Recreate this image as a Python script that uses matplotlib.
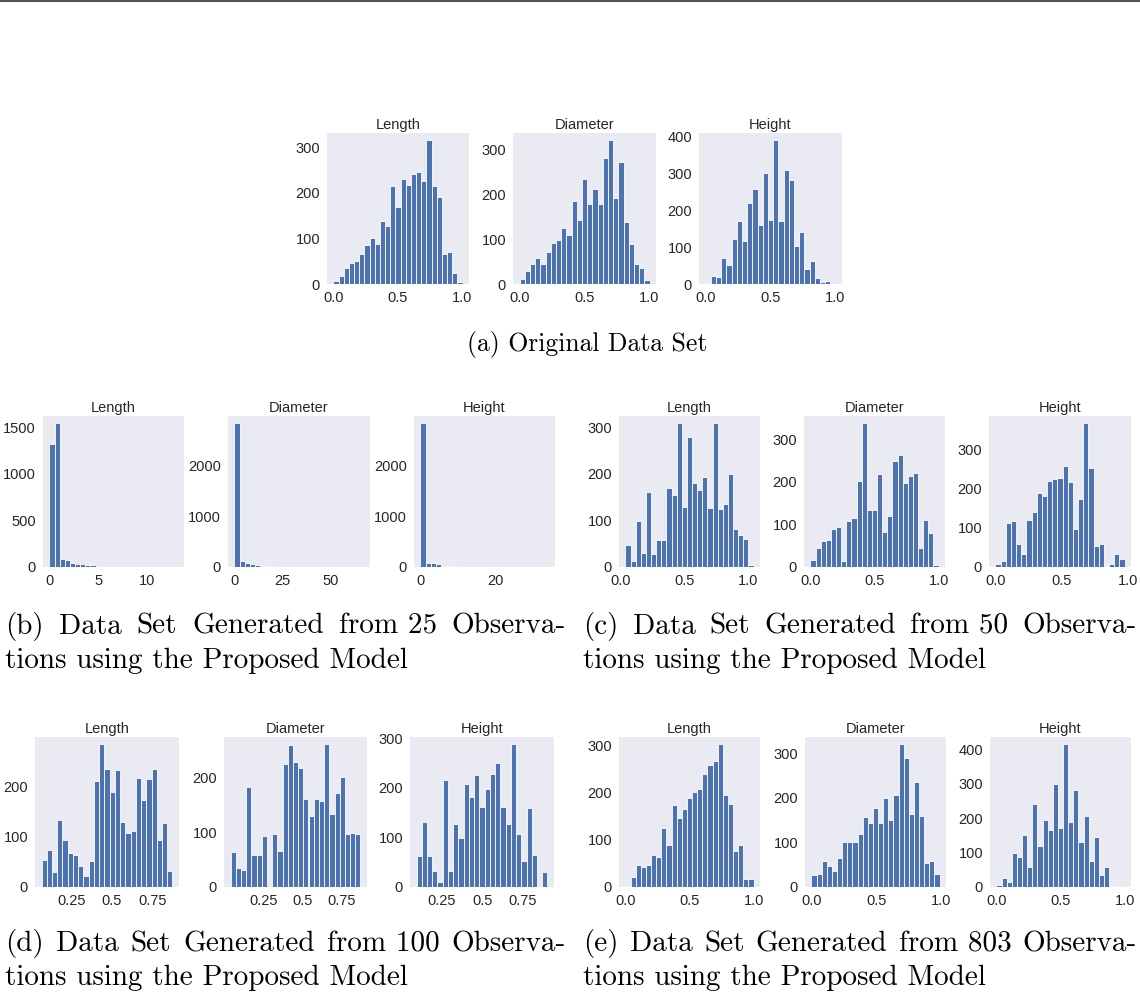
import numpy as np
import matplotlib
matplotlib.use("Agg")
import matplotlib.pyplot as plt
from matplotlib import font_manager
from matplotlib.lines import Line2D

# ---------------- data ----------------
features = ["Length", "Diameter", "Height"]

a_length = [7, 17, 34, 46, 50, 66, 86, 101, 88, 139, 127, 215, 168, 231, 216, 240, 246, 226, 315, 215, 190, 66, 69, 24, 5]
a_diameter = [11, 30, 44, 57, 44, 71, 92, 98, 125, 109, 185, 142, 235, 179, 213, 179, 281, 321, 192, 273, 139, 90, 45, 36, 10]
a_height = [2, 21, 18, 71, 51, 121, 171, 117, 220, 258, 160, 301, 175, 391, 171, 309, 282, 103, 142, 40, 62, 17, 5, 7, 1]

b_length = [1321, 1543, 86, 75, 43, 29, 29, 18, 18, 7, 4, 3, 2, 1, 1, 1, 0, 0, 1, 0, 0, 0, 0, 0, 1]
b_diameter = [2820, 111, 85, 52, 39, 26, 20, 13, 8, 5, 4, 3, 2, 1, 1, 1, 0, 1, 0, 0, 0, 0, 0, 0, 1]
b_height = [2820, 85, 85, 52, 26, 26, 13, 13, 6, 4, 3, 2, 1, 1, 1, 0, 0, 1, 0, 0, 0, 0, 0, 0, 1]

c_length = [47, 13, 99, 31, 161, 29, 59, 59, 170, 154, 309, 129, 280, 181, 166, 193, 127, 309, 124, 136, 199, 81, 68, 60, 4]
c_diameter = [16, 45, 61, 64, 90, 95, 14, 109, 114, 203, 338, 133, 135, 219, 83, 120, 248, 263, 198, 215, 220, 45, 110, 80, 5]
c_height = [7, 14, 112, 117, 58, 34, 119, 141, 189, 180, 219, 224, 227, 256, 217, 97, 172, 366, 252, 53, 59, 3, 7, 32, 21]

d_length = [54, 74, 29, 133, 93, 68, 63, 41, 22, 51, 210, 284, 234, 189, 232, 129, 108, 111, 217, 173, 214, 234, 93, 127, 32]
d_diameter = [64, 34, 32, 184, 59, 59, 94, 0, 98, 66, 225, 260, 229, 219, 162, 130, 162, 158, 262, 133, 173, 202, 97, 99, 98]
d_height = [63, 132, 63, 32, 10, 215, 32, 128, 99, 208, 182, 225, 162, 197, 228, 250, 162, 128, 288, 107, 53, 160, 64, 0, 31]

e_length = [3, 22, 47, 43, 47, 67, 63, 124, 88, 174, 146, 164, 188, 201, 208, 239, 257, 266, 302, 194, 175, 76, 88, 16, 16]
e_diameter = [26, 29, 59, 46, 35, 66, 101, 101, 101, 118, 157, 143, 178, 143, 199, 150, 206, 320, 288, 163, 235, 159, 54, 59, 29]
e_height = [6, 27, 15, 100, 88, 151, 59, 243, 119, 195, 166, 299, 171, 416, 188, 282, 131, 208, 75, 146, 34, 59, 2, 2, 2]

# value ranges (min, max) of each histogram
a_ranges = [(0.0, 1.0), (0.0, 1.0), (0.0, 1.0)]
b_ranges = [(0.0, 13.1), (0.0, 67.0), (0.0, 34.0)]
c_ranges = [(0.036, 1.04), (0.0, 1.0), (0.0, 0.97)]
d_ranges = [(0.065, 0.875), (0.038, 0.87), (0.093, 0.90)]
e_ranges = [(0.0, 1.0), (0.0, 0.99), (0.0, 1.0)]

# x tick labels
a_xticks = [[0.0, 0.5, 1.0]] * 3
b_xticks = [[0, 5, 10], [0, 25, 50], [0, 20]]
c_xticks = [[0.0, 0.5, 1.0]] * 3
d_xticks = [[0.25, 0.50, 0.75]] * 3
e_xticks = [[0.0, 0.5, 1.0]] * 3

captions = {
    "a": ["(a) Original Data Set"],
    "b": ["(b) Data Set Generated from 25 Observa-", "tions using the Proposed Model"],
    "c": ["(c) Data Set Generated from 50 Observa-", "tions using the Proposed Model"],
    "d": ["(d) Data Set Generated from 100 Observa-", "tions using the Proposed Model"],
    "e": ["(e) Data Set Generated from 803 Observa-", "tions using the Proposed Model"],
}

# ---------------- style ----------------
W, H = 1140, 999
installed = {f.name for f in font_manager.fontManager.ttflist}
if "Liberation Sans Narrow" in installed:
    sans = ["Liberation Sans Narrow", "DejaVu Sans"]
    fs = 11.5
else:
    sans = ["Liberation Sans", "DejaVu Sans"]
    fs = 10.5

BAR = "#4C72B0"
BG = "#EAEAF2"
TXT = "#262626"

fig = plt.figure(figsize=(W / 100, H / 100), dpi=100)
fig.patch.set_facecolor("white")


def px_axes(x0, x1, y0, y1):
    return fig.add_axes([x0 / W, 1 - y1 / H, (x1 - x0) / W, (y1 - y0) / H])


def fmt(t):
    if isinstance(t, int):
        return str(t)
    return f"{t:.2f}" if abs(round(t * 10) - t * 10) > 1e-9 else f"{t:.1f}"


def draw(ax, counts, rng, xticks, title):
    counts = np.asarray(counts, dtype=float)
    edges = np.linspace(rng[0], rng[1], len(counts) + 1)
    centers = 0.5 * (edges[:-1] + edges[1:])
    ax.hist(centers, bins=edges, weights=counts, color=BAR,
            edgecolor="white", linewidth=0.6)
    ax.set_facecolor(BG)
    for s in ax.spines.values():
        s.set_visible(False)
    ax.grid(False)
    ax.set_xticks(xticks)
    ax.set_xticklabels([fmt(t) for t in xticks])
    ax.tick_params(axis="both", length=0, pad=5, labelsize=fs, colors=TXT)
    for lab in ax.get_xticklabels() + ax.get_yticklabels():
        lab.set_fontfamily(sans)
    ax.set_title(title, fontsize=fs, color=TXT, pad=3, family=sans)


groups = [
    ("a", [a_length, a_diameter, a_height], a_ranges, a_xticks,
     [(327, 469), (513, 656), (699, 842)], (133, 284)),
    ("b", [b_length, b_diameter, b_height], b_ranges, b_xticks,
     [(43, 184), (228, 370), (414, 555)], (416, 567)),
    ("c", [c_length, c_diameter, c_height], c_ranges, c_xticks,
     [(619, 760), (804, 945), (989, 1131)], (416, 567)),
    ("d", [d_length, d_diameter, d_height], d_ranges, d_xticks,
     [(35, 179), (224, 367), (410, 554)], (737, 887)),
    ("e", [e_length, e_diameter, e_height], e_ranges, e_xticks,
     [(619, 760), (805, 946), (990, 1131)], (737, 887)),
]

for key, series, ranges, xt, xs, (y0, y1) in groups:
    for counts, rng, ticks, (x0, x1), name in zip(series, ranges, xt, xs, features):
        ax = px_axes(x0, x1, y0, y1)
        draw(ax, counts, rng, ticks, name)

# ---------------- captions ----------------
renderer = fig.canvas.get_renderer()
cap_a_fs = 18.5
cap_fs = 21


def word_width(word, size):
    t = fig.text(0, 0, word, family="cmr10", fontsize=size)
    w = t.get_window_extent(renderer=renderer).width
    t.remove()
    return w


def justified(line, x_left, x_right, y_base, size):
    # keep numbers attached to the preceding word so they share its baseline
    tokens = []
    for w in line.split(" "):
        if tokens and w.isdigit():
            tokens[-1] = tokens[-1] + " " + w
        else:
            tokens.append(w)
    widths = [word_width(w, size) for w in tokens]
    gap = (x_right - x_left - sum(widths)) / (len(tokens) - 1)
    x = x_left
    for w, wd in zip(tokens, widths):
        fig.text(x / W, 1 - y_base / H, w, ha="left", va="baseline",
                 family="cmr10", fontsize=size, color="black")
        x += wd + gap


fig.text(587 / W, 1 - 344 / H, captions["a"][0], ha="center", va="center",
         family="cmr10", fontsize=cap_a_fs, color="black")
cap_pos = {"b": (5, 566, 634), "c": (583, 1137, 634),
           "d": (5, 566, 951), "e": (583, 1137, 951)}
for key, (xl, xr, yb) in cap_pos.items():
    first, second = captions[key]
    justified(first, xl, xr, yb, cap_fs)
    fig.text(xl / W, 1 - (yb + 34) / H, second, ha="left", va="baseline",
             family="cmr10", fontsize=cap_fs, color="black")

# top rule
fig.add_artist(Line2D([0, 1], [1 - 1 / H, 1 - 1 / H], color="#555555", lw=1.5,
                      transform=fig.transFigure))

fig.savefig("out.png", dpi=100, facecolor="white")
